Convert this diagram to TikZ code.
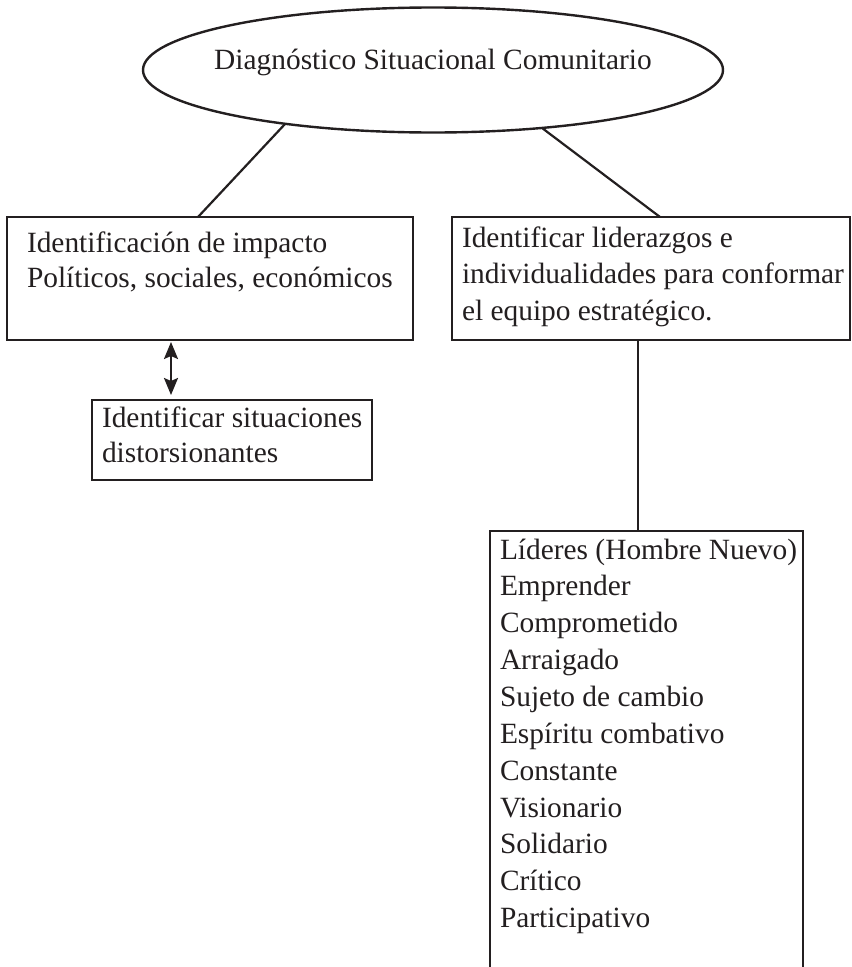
\documentclass[tikz,border=0pt]{standalone}
\usepackage{fontspec}
\setmainfont{Liberation Serif}
\usetikzlibrary{arrows.meta,shapes.geometric}
\definecolor{ink}{RGB}{35,31,32}
\newcommand{\boxtext}[1]{\parbox[t]{400bp}{\raggedright #1}}
\begin{document}
\begin{tikzpicture}[x=1bp,y=-1bp,
  frame/.style={draw=ink, line width=2.4bp, rectangle, inner sep=0, outer sep=0, anchor=north west},
  txt/.style={anchor=base west, inner sep=0, outer sep=0, text=ink, font=\fontsize{29.5}{36}\selectfont},
  txtb/.style={txt, font=\fontsize{29.5}{37}\selectfont},
  link/.style={draw=ink, line width=2.2bp},
  dbl/.style={link, {Stealth[length=17bp,width=14bp,inset=3bp]}-{Stealth[length=17bp,width=14bp,inset=3bp]}}]
\useasboundingbox (0,0) rectangle (852,967);
\clip (0,0) rectangle (852,967);
\fill[white] (0,0) rectangle (852,967);
% ellipse
\node[draw=ink, line width=2.4bp, ellipse, inner sep=0, outer sep=0,
      minimum width=580bp, minimum height=125bp] (ell) at (433,70) {};
\node[txt, anchor=base] (title) at (433,69) {Diagnóstico Situacional Comunitario};
% boxes
\node[frame, minimum width=406bp, minimum height=123bp] (b1) at (7,217) {};
\node[frame, minimum width=280bp, minimum height=80bp] (b2) at (92,400) {};
\node[frame, minimum width=398bp, minimum height=123bp] (b3) at (452,217) {};
\node[frame, minimum width=313bp, minimum height=470bp] (b4) at (490,531) {};
% texts
\node[txt] (t1) at (27,252) {\boxtext{Identificación de impacto\\Políticos, sociales, económicos}};
\node[txt] (t2) at (102,427) {\boxtext{Identificar situaciones\\distorsionantes}};
\node[txtb] (t3) at (462,247) {\boxtext{Identificar liderazgos e\\individualidades para conformar\\el equipo estratégico.}};
\node[txtb] (t4) at (500,559) {\boxtext{Líderes (Hombre Nuevo)\\Emprender\\Comprometido\\Arraigado\\Sujeto de cambio\\Espíritu combativo\\Constante\\Visionario\\Solidario\\Crítico\\Participativo}};
% connectors
\coordinate (lx) at (198,0);
\coordinate (rx) at (660,0);
\coordinate (ax) at (171,0);
\coordinate (vx) at (638,0);
\draw[link] (ell.200) -- (b1.north -| lx);
\draw[link] (ell.332) -- (b3.north -| rx);
\draw[dbl, shorten <=2bp, shorten >=5bp] (b1.south -| ax) -- (b2.north -| ax);
\draw[link] (b3.south -| vx) -- (b4.north -| vx);
\end{tikzpicture}
\end{document}
